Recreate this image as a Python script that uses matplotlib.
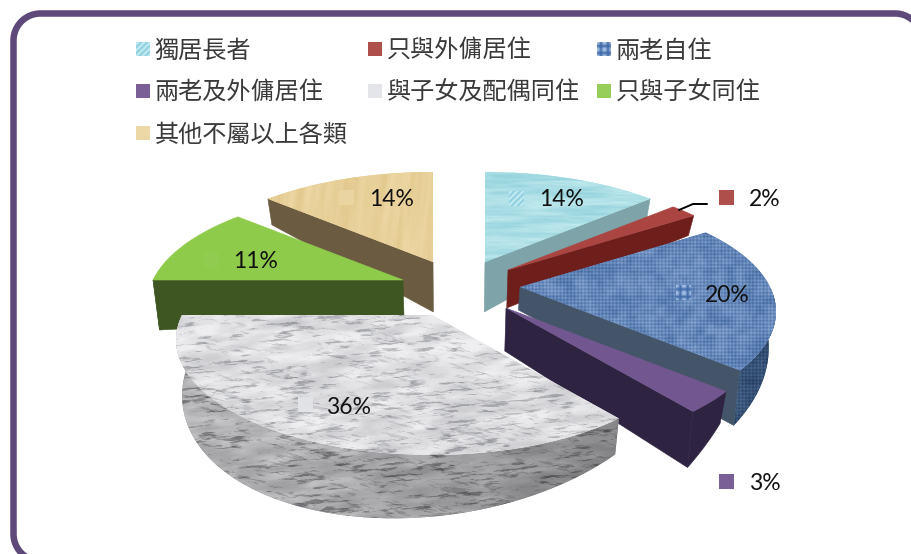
#!/usr/bin/python3

import numpy as np
import matplotlib
matplotlib.use("Agg")
import matplotlib.pyplot as plt
from matplotlib.colors import to_rgb
from matplotlib.patches import Polygon

## data

categories = ["獨居長者", "只與外傭居住", "兩老自住",
              "兩老及外傭居住", "與子女及配偶同住", "只與子女同住",
              "其他不屬以上各類"]
values = [14, 2, 20, 3, 36, 11, 14]

## layout, all in pixels

W, H = 912, 554
apex = [(485, 262), (508, 270), (520, 287), (506, 308), (432, 315), (403, 280), (433, 262)]
# wall height at the apex, at the first rim point, at the last rim point, bulge along the rim
walls = [(50, 25, 25, 0), (38, 20, 20, 0), (23, 5, 55, 0), (43, 32, 56, 0),
         (50, 36, 50, 26), (37, 50, 20, 0), (50, 26, 30, 0)]
label_pos = [(562, 200), (765, 199), (727, 295), (765, 483), (349, 407), (256, 261), (392, 200)]
key_pos = [(517, 199), (727, 197), (684, 293), (727, 481), (306, 404), (212, 259), (347, 197)]
legend_x = [136, 368, 597]
legend_y = [49, 91, 133]
draw_order = [6, 0, 1, 5, 2, 3, 4]

top_colors = ["#A9DDE5", "#AB4542", "#5D80B6", "#725690", "#DCDDE0", "#8FCB4B", "#E6CC92"]
edge_colors = ["#7EA3A8", "#6E1F1C", "#445569", "#2E2340", "#8E8E90", "#3E5622", "#6B5B40"]
key_colors = ["#A6DCE6", "#AB4542", "#5D80B6", "#725690", "#E3E4E8", "#92CC50", "#EBD5A2"]


def project(theta):
    # flat disc seen from above, the near half is drawn larger
    t = np.radians(theta)
    x, y = np.sin(t), -np.cos(t)
    return x * (250 + 56 * y), 115 * y + 25 * y ** 2


def wall_bottom(px, py, depth):
    # vertical edges lean a little towards the middle of the pie
    return px + 0.022 * (450 - px), py + depth


yy, xx = np.mgrid[0:H, 0:W].astype(float)


def lattice(i, j):
    # shader style hash, gives a fixed value per lattice node
    v = np.sin(i * 12.9898 + j * 78.233) * 43758.5453
    return v - np.floor(v)


def value_noise(u, v):
    i, j = np.floor(u), np.floor(v)
    fu, fv = u - i, v - j
    fu, fv = fu * fu * (3 - 2 * fu), fv * fv * (3 - 2 * fv)
    a = lattice(i, j) * (1 - fu) + lattice(i + 1, j) * fu
    b = lattice(i, j + 1) * (1 - fu) + lattice(i + 1, j + 1) * fu
    return a * (1 - fv) + b * fv


def fbm(u, v, octaves=4):
    out, amp, tot = np.zeros_like(u), 1.0, 0.0
    for k in range(octaves):
        out += amp * value_noise(u * 2 ** k + 3.1 * k, v * 2 ** k + 1.7 * k)
        tot += amp
        amp *= 0.55
    return out / tot


def stretch(g):
    g = (g - g.mean()) / g.std()
    return np.clip(g / 2, -1, 1)


def water_tex():
    return stretch(fbm(xx / 40 + yy / 400, yy / 3.5, 3))


def weave_tex():
    g = np.sin((xx + yy) * 2 * np.pi / 7) * np.sin((xx - yy) * 2 * np.pi / 7)
    return np.clip(g * .65 + .4 * stretch(fbm(xx / 10, yy / 10, 3)), -1, 1)


def marble_tex():
    # fine grey streaks over a pale mottled ground, two slightly different directions
    a = stretch(fbm((xx + .3 * yy) / 16, (yy + .08 * xx) / 2.6, 4))
    b = stretch(fbm((xx - .4 * yy) / 14 + 17, (yy - .22 * xx) / 3 + 5, 3))
    mottled = stretch(fbm(xx / 35, (yy + .1 * xx) / 9, 3))
    streaks = np.clip(-a - .3, 0, 1) + .7 * np.clip(-b - .5, 0, 1)
    return np.clip(.5 + .35 * mottled - 1.5 * streaks, -1, 1)


def wood_tex():
    return stretch(fbm((xx + .12 * yy) / 7, yy / 90, 3))


def shade(tex, dark, light):
    # map a -1..1 texture onto a colour ramp
    dark, light = np.array(to_rgb(dark)), np.array(to_rgb(light))
    return dark + (light - dark) * ((tex + 1) / 2)[..., None]


marble_g = marble_tex()
weave_g = weave_tex()
water = shade(water_tex(), "#98D4DE", "#BDE8EC")
weave = shade(weave_g, "#42689F", "#88A6D2")
weave_dark = shade(weave_g, "#22395A", "#4A6A90")
marble = shade(marble_g, "#96979C", "#F6F6F8")
# the outer wall of the big slice gets darker towards the right
falloff = np.clip(1.04 - .32 * (xx - 180) / 440, .6, 1)[..., None]
marble_dark = shade(marble_g, "#66666A", "#D6D6D8") * falloff
wood = shade(wood_tex(), "#E2C88C", "#EDD6A4")
textures = {0: water, 2: weave, 4: marble, 6: wood}
rim_textures = {2: weave_dark, 4: marble_dark}


def fill(ax, pts, color, tex=None):
    poly = Polygon(pts, closed=True, facecolor=color, edgecolor=color if tex is None else "none",
                   linewidth=0.4)
    ax.add_patch(poly)
    if tex is not None:
        im = ax.imshow(tex, extent=(0, W, H, 0), aspect="auto", interpolation="bilinear", zorder=poly.get_zorder())
        im.set_clip_path(poly)


def corner(cx, cy, r, a0, a1):
    t = np.radians(np.linspace(a0, a1, 30))
    return cx + r * np.cos(t), cy + r * np.sin(t)


def key_mark(ax, x0, y0, size, i):
    # small legend swatch, the first and third slices carry a pattern
    if i in (0, 2):
        v, u = np.mgrid[0:size, 0:size].astype(float)
        if i == 0:
            g = np.sin((u + v) * 2 * np.pi / 6)
            tex = shade(g, "#8CCFE0", "#C6EBF2")
        else:
            g = np.abs(np.cos((u - size / 2) * np.pi / (size / 2))) * np.abs(np.cos((v - size / 2) * np.pi / (size / 2)))
            tex = shade(2 * g - 1, "#3F6AA8", "#A9C3E4")
        ax.imshow(tex, extent=(x0, x0 + size, y0 + size, y0), aspect="auto", interpolation="bilinear", zorder=5)
    else:
        ax.add_patch(Polygon([(x0, y0), (x0 + size, y0), (x0 + size, y0 + size), (x0, y0 + size)], closed=True,
                             facecolor=key_colors[i], edgecolor="none", alpha=.95, zorder=5))


## figure

fig = plt.figure(figsize=(W / 100, H / 100), dpi=100, facecolor="white")
ax = fig.add_axes([0, 0, 1, 1])
ax.set_axis_off()

# rounded frame, its right and bottom sides run off the canvas
r = 27
left, top, right, bottom = 13.5, 13.5, 922, 561
bl = corner(left + r, bottom - r, r, 90, 180)
tl = corner(left + r, top + r, r, 180, 270)
tr = corner(right - r, top + r, r, 270, 360)
ax.plot(np.r_[bl[0], tl[0], tr[0]], np.r_[bl[1], tl[1], tr[1]], color="#5F497A", linewidth=4.7,
        solid_joinstyle="round")

cum = np.cumsum([0] + values) * 3.6

for i in draw_order:
    start, end = cum[i], cum[i + 1]
    ax_, ay_ = apex[i]
    d_apex, d_start, d_end, bulge = walls[i]
    thetas = np.linspace(start, end, 60)
    dx, dy = project(thetas)
    rx, ry = ax_ + dx, ay_ + dy
    frac = (thetas - start) / (end - start)
    rim_depth = d_start + (d_end - d_start) * frac + bulge * np.sin(np.pi * frac)
    bx, by = wall_bottom(rx, ry, rim_depth)
    ab = wall_bottom(ax_, ay_, d_apex)

    # cut faces turned towards the viewer
    if np.sin(np.radians(start)) < -1e-6:
        fill(ax, [(ax_, ay_), (rx[0], ry[0]), (bx[0], by[0]), ab], edge_colors[i])
    if np.sin(np.radians(end)) > 1e-6:
        fill(ax, [(ax_, ay_), (rx[-1], ry[-1]), (bx[-1], by[-1]), ab], edge_colors[i])

    # outer wall on the near half of the rim
    near = np.cos(np.radians(thetas)) < 0
    if near.any():
        pts = list(zip(rx[near], ry[near])) + list(zip(bx[near][::-1], by[near][::-1]))
        fill(ax, pts, edge_colors[i], rim_textures.get(i))

    fill(ax, [(ax_, ay_)] + list(zip(rx, ry)), top_colors[i], textures.get(i))

# leader line of the smallest slice
ax.plot([679, 693, 707], [210, 204, 204], color="black", linewidth=1.4, solid_capstyle="round")

## labels and keys

for i, v in enumerate(values):
    kx, ky = key_pos[i]
    key_mark(ax, kx - 7.5, ky - 7.5, 15, i)
    lx, ly = label_pos[i]
    ax.text(lx, ly, f"{v}%", fontsize=16.5, family=["Lato", "DejaVu Sans"], color="#111111",
            ha="center", va="center", zorder=6)

for i, name in enumerate(categories):
    row, col = divmod(i, 3)
    x, y = legend_x[col], legend_y[row]
    key_mark(ax, x, y - 7, 14, i)
    ax.text(x + 18.5, y + 1.5, name, fontsize=17.4, family=["Noto Sans CJK TC", "DejaVu Sans"], color="#3A3A3A",
            ha="left", va="center", zorder=6)

ax.set_xlim(0, W)
ax.set_ylim(H, 0)

fig.savefig("out.png", dpi=100)
